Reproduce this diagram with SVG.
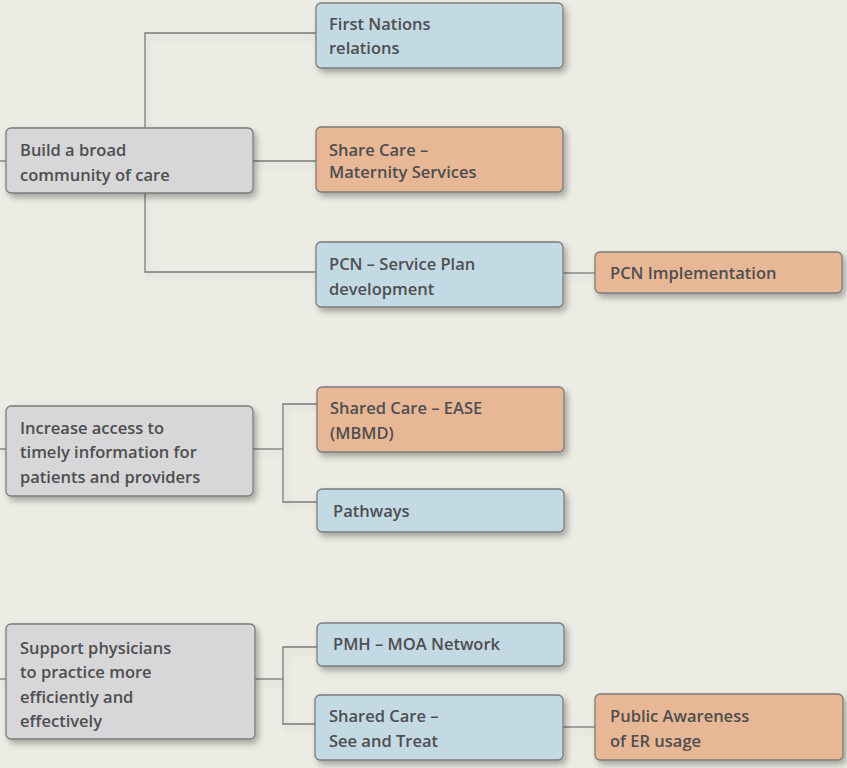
<svg xmlns="http://www.w3.org/2000/svg" width="847" height="768" viewBox="0 0 847 768">
<style>
.n{stroke:#7b7b7b;stroke-width:1.3;filter:url(#sh)}
.g{fill:#d7d6d8}
.b{fill:#c3d9e4}
.o{fill:#e8b896}
text{font-family:"Open Sans",Lato,"Liberation Sans",sans-serif;font-weight:600;font-size:16.5px;fill:#4e4e50}
.c{fill:none;stroke:#7b7b7b;stroke-width:1.3}
</style>
<defs>
<filter id="sh" x="-10%" y="-20%" width="125%" height="160%">
<feDropShadow dx="3" dy="4" stdDeviation="3" flood-color="#000" flood-opacity="0.3"/>
</filter>
<filter id="ls" x="-10%" y="-10%" width="120%" height="120%">
<feDropShadow dx="3" dy="4" stdDeviation="3" flood-color="#000" flood-opacity="0.12"/>
</filter>
</defs>
<rect width="847" height="768" fill="#ecece4"/>
<g id="connectors" class="c" filter="url(#ls)">
<path d="M0 161H6"/>
<path d="M145 128V33H316"/>
<path d="M253 161H316"/>
<path d="M145 193V272H316"/>
<path d="M563 273H595"/>
<path d="M0 449H6"/>
<path d="M253 449H283"/>
<path d="M317 404H283V502H317"/>
<path d="M0 679H6"/>
<path d="M255 679H283"/>
<path d="M317 647H283V724H315"/>
<path d="M563 727H595"/>
</g>
<g id="build">
<rect class="n g" x="6" y="128" width="247" height="65" rx="5"/>
<text x="20" y="156">Build a broad</text>
<text x="20" y="181">community of care</text>
</g>
<g id="first-nations">
<rect class="n b" x="316" y="3" width="247" height="65" rx="5"/>
<text x="329" y="30">First Nations</text>
<text x="329" y="54">relations</text>
</g>
<g id="share-care-maternity">
<rect class="n o" x="316" y="127" width="247" height="65" rx="5"/>
<text x="329" y="156">Share Care –</text>
<text x="329" y="178">Maternity Services</text>
</g>
<g id="pcn-service">
<rect class="n b" x="316" y="242" width="247" height="65" rx="5"/>
<text x="329" y="270">PCN – Service Plan</text>
<text x="329" y="295">development</text>
</g>
<g id="pcn-impl">
<rect class="n o" x="595" y="252" width="247" height="41" rx="5"/>
<text x="610" y="279">PCN Implementation</text>
</g>
<g id="increase">
<rect class="n g" x="6" y="406" width="247" height="90" rx="5"/>
<text x="20" y="434">Increase access to</text>
<text x="20" y="458">timely information for</text>
<text x="20" y="483">patients and providers</text>
</g>
<g id="ease">
<rect class="n o" x="317" y="387" width="247" height="65" rx="5"/>
<text x="330" y="414">Shared Care – EASE</text>
<text x="330" y="439">(MBMD)</text>
</g>
<g id="pathways">
<rect class="n b" x="317" y="489" width="247" height="43" rx="5"/>
<text x="333" y="517">Pathways</text>
</g>
<g id="support">
<rect class="n g" x="6" y="624" width="249" height="115" rx="5"/>
<text x="20" y="654">Support physicians</text>
<text x="20" y="678">to practice more</text>
<text x="20" y="703">efficiently and</text>
<text x="20" y="727">effectively</text>
</g>
<g id="pmh">
<rect class="n b" x="317" y="623" width="247" height="43" rx="5"/>
<text x="333" y="650">PMH – MOA Network</text>
</g>
<g id="see-treat">
<rect class="n b" x="315" y="695" width="248" height="65" rx="5"/>
<text x="329" y="722">Shared Care –</text>
<text x="329" y="747">See and Treat</text>
</g>
<g id="public">
<rect class="n o" x="595" y="694" width="248" height="66" rx="5"/>
<text x="610" y="722">Public Awareness</text>
<text x="610" y="747">of ER usage</text>
</g>
</svg>
